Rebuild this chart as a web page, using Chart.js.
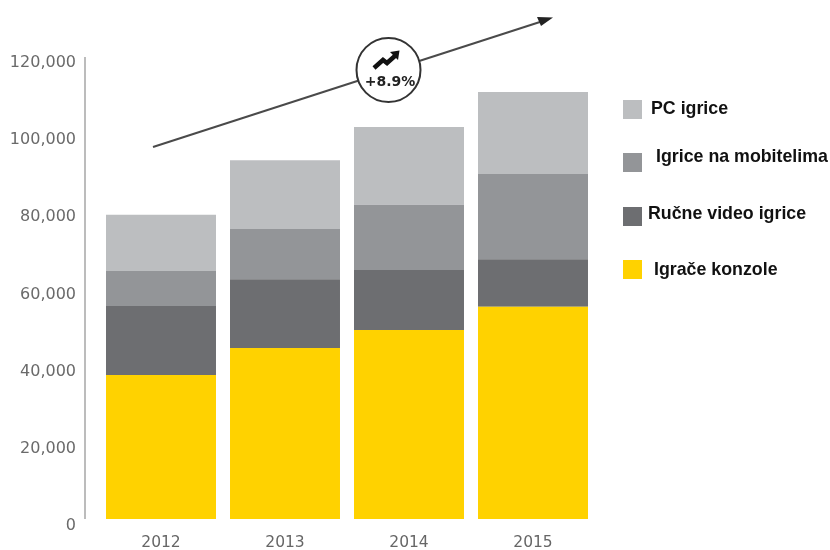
<!DOCTYPE html>
<html>
<head>
<meta charset="utf-8">
<script src="https://cdn.jsdelivr.net/npm/chart.js@4"></script>
<style>
html,body{margin:0;padding:0;background:#fff}
canvas{display:block;filter:blur(0.45px)}
</style>
</head>
<body>
<canvas id="c" width="830" height="550"></canvas>
<script>
const categories = ['2012','2013','2014','2015'];
const konzole  = [37400,44400,49100,55100];
const rucne    = [17900,17900,15600,12400];
const mobiteli = [ 9100,13000,16900,22100];
const pc       = [14600,17900,20200,21300];
const yTickValues = [0,20000,40000,60000,80000,100000,120000];
const badgeText = '+8.9%';

const axisPlugin = {
  id:'decor',
  afterDatasetsDraw(chart){
    const {ctx,scales:{y}} = chart;
    ctx.save();
    // axis line
    ctx.strokeStyle='#bcbcbc'; ctx.lineWidth=2;
    ctx.beginPath(); ctx.moveTo(85,y.getPixelForValue(120000)); ctx.lineTo(85,y.getPixelForValue(0)); ctx.stroke();
    // trend arrow
    ctx.strokeStyle='#4a4a4a'; ctx.lineWidth=2;
    ctx.beginPath(); ctx.moveTo(153,147); ctx.lineTo(543,21); ctx.stroke();
    ctx.fillStyle='#222';
    ctx.beginPath(); ctx.moveTo(553,17.5); ctx.lineTo(537,17); ctx.lineTo(541,26); ctx.closePath(); ctx.fill();
    // badge
    ctx.fillStyle='#fff'; ctx.strokeStyle='#333'; ctx.lineWidth=2;
    ctx.beginPath(); ctx.arc(388.5,70,32,0,Math.PI*2); ctx.fill(); ctx.stroke();
    ctx.strokeStyle='#111'; ctx.lineWidth=4.5; ctx.lineJoin='miter';
    ctx.beginPath(); ctx.moveTo(374,68); ctx.lineTo(383,60); ctx.lineTo(387,63); ctx.lineTo(396,55); ctx.stroke();
    ctx.fillStyle='#111';
    ctx.beginPath(); ctx.moveTo(390,52); ctx.lineTo(399.5,50.5); ctx.lineTo(398,60); ctx.closePath(); ctx.fill();
    ctx.font='bold 14px "DejaVu Sans"'; ctx.textAlign='center'; ctx.textBaseline='middle';
    ctx.fillStyle='#222'; ctx.fillText(badgeText,390,82);
    // legend
    const xs=[651,656,648,654], sy=[100,153,207,260], ty=[109.5,157.5,214.5,270.5];
    const order=[3,2,1,0];
    ctx.textAlign='left'; ctx.font='bold 17.8px "Liberation Sans"';
    order.forEach((d,i)=>{
      const ds=chart.data.datasets[d];
      ctx.fillStyle=ds.backgroundColor; ctx.fillRect(623,sy[i],19,19);
      ctx.fillStyle='#111'; ctx.fillText(ds.label,xs[i],ty[i]);
    });
    ctx.restore();
  }
};

new Chart(document.getElementById('c'),{
  type:'bar',
  data:{labels:categories,datasets:[
    {label:'Igrače konzole',data:konzole,backgroundColor:'#FFD200'},
    {label:'Ručne video igrice',data:rucne,backgroundColor:'#6D6E71'},
    {label:'Igrice na mobitelima',data:mobiteli,backgroundColor:'#939598'},
    {label:'PC igrice',data:pc,backgroundColor:'#BCBEC0'}
  ]},
  options:{
    responsive:false,animation:false,
    layout:{padding:{top:57,right:235,left:0,bottom:0}},
    datasets:{bar:{barPercentage:0.887,categoryPercentage:1,borderWidth:0}},
    plugins:{legend:{display:false},tooltip:{enabled:false},title:{display:false}},
    scales:{
      x:{stacked:true,
        grid:{display:false},border:{display:false},
        afterFit(s){s.height=24;},
        ticks:{color:'#666',font:{family:'DejaVu Sans',size:15.5},padding:-0.5,maxRotation:0}},
      y:{stacked:true,display:false,min:-1818,max:120000},
      yLabels:{position:'left',min:0,max:121555,
        grid:{display:false,drawTicks:false},border:{display:false},
        afterFit(s){s.width=99; s.paddingBottom=0; s.paddingTop=0;},
        afterBuildTicks(s){s.ticks=yTickValues.map(v=>({value:v}));},
        ticks:{color:'#6a6a6a',font:{family:'DejaVu Sans',size:16},padding:23,
          callback:v=>v===0?'0':v.toLocaleString('en-US')}}
    }
  },
  plugins:[axisPlugin]
});
</script>
</body>
</html>
